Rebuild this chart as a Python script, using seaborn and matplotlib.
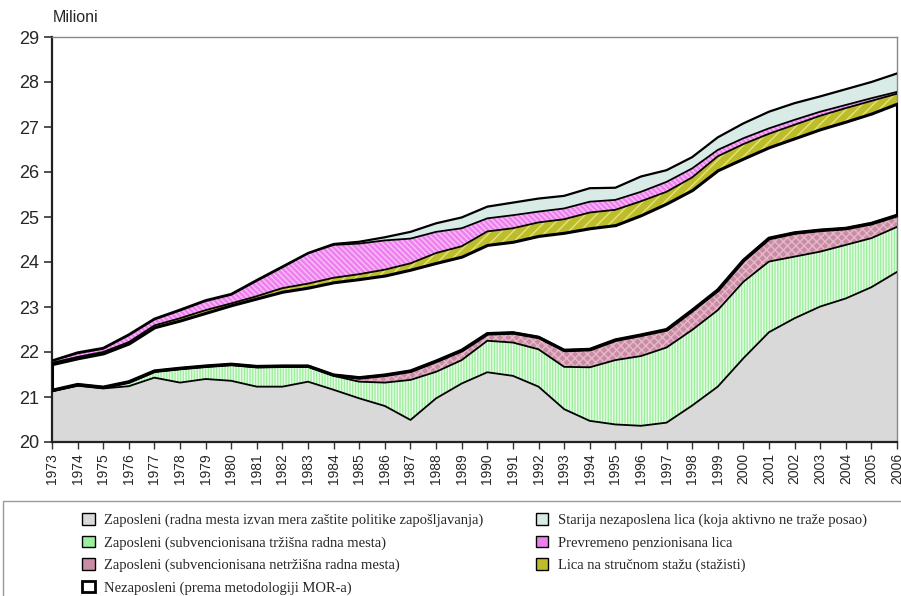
import numpy as np
import matplotlib.pyplot as plt
import seaborn as sns
from matplotlib.patches import Patch, Rectangle

# godine
years = list(range(1973, 2007))

# slojevi (miliona), odozdo nagore
zaposleni_van_mera = [21.13, 21.25, 21.19, 21.24, 21.43, 21.32, 21.40, 21.36, 21.23, 21.23, 21.34, 21.16,
                      20.97, 20.80, 20.49, 20.97, 21.30, 21.55, 21.47, 21.23, 20.73, 20.47, 20.39, 20.36,
                      20.43, 20.81, 21.23, 21.86, 22.44, 22.75, 23.01, 23.19, 23.44, 23.78]
zaposleni_trzisna = [0.00, 0.01, 0.01, 0.08, 0.13, 0.30, 0.27, 0.35, 0.43, 0.44, 0.33, 0.31,
                     0.37, 0.52, 0.89, 0.59, 0.52, 0.70, 0.74, 0.83, 0.94, 1.19, 1.43, 1.55,
                     1.67, 1.68, 1.70, 1.70, 1.57, 1.37, 1.22, 1.19, 1.09, 1.00]
zaposleni_netrzisna = [0.02, 0.02, 0.02, 0.02, 0.02, 0.02, 0.02, 0.02, 0.02, 0.02, 0.02, 0.02,
                       0.09, 0.17, 0.20, 0.24, 0.22, 0.16, 0.22, 0.27, 0.37, 0.40, 0.45, 0.47,
                       0.40, 0.44, 0.45, 0.48, 0.52, 0.53, 0.48, 0.37, 0.33, 0.26]
nezaposleni = [0.58, 0.58, 0.75, 0.85, 0.97, 1.06, 1.18, 1.31, 1.51, 1.65, 1.74, 2.06,
               2.19, 2.21, 2.25, 2.18, 2.08, 1.97, 2.02, 2.25, 2.61, 2.69, 2.55, 2.66,
               2.80, 2.67, 2.66, 2.26, 2.02, 2.10, 2.24, 2.37, 2.44, 2.48]
stazisti = [0.03, 0.03, 0.03, 0.03, 0.04, 0.05, 0.06, 0.04, 0.05, 0.08, 0.09, 0.10,
            0.11, 0.13, 0.14, 0.22, 0.23, 0.30, 0.30, 0.30, 0.30, 0.35, 0.34, 0.31,
            0.26, 0.28, 0.31, 0.32, 0.30, 0.30, 0.30, 0.30, 0.28, 0.22]
prevremeno_penz = [0.04, 0.08, 0.07, 0.15, 0.13, 0.17, 0.20, 0.19, 0.34, 0.46, 0.67, 0.73,
                   0.68, 0.65, 0.55, 0.47, 0.40, 0.29, 0.29, 0.24, 0.24, 0.24, 0.22, 0.21,
                   0.22, 0.20, 0.14, 0.13, 0.12, 0.11, 0.09, 0.07, 0.06, 0.04]
starija_nezaposlena = [0.01, 0.02, 0.02, 0.02, 0.02, 0.02, 0.02, 0.02, 0.02, 0.02, 0.01, 0.02,
                       0.04, 0.07, 0.15, 0.19, 0.24, 0.26, 0.28, 0.29, 0.28, 0.30, 0.27, 0.34,
                       0.26, 0.25, 0.28, 0.33, 0.37, 0.37, 0.34, 0.35, 0.36, 0.41]

labels = ['Zaposleni (radna mesta izvan mera zaštite politike zapošljavanja)',
          'Zaposleni (subvencionisana tržišna radna mesta)',
          'Zaposleni (subvencionisana netržišna radna mesta)',
          'Nezaposleni (prema metodologiji MOR-a)',
          'Lica na stručnom stažu (stažisti)',
          'Prevremeno penzionisana lica',
          'Starija nezaposlena lica (koja aktivno ne traže posao)']

sns.set_theme(style='ticks')
plt.rcParams['font.family'] = ['Liberation Sans', 'DejaVu Sans']
plt.rcParams['hatch.linewidth'] = 1.0

fig = plt.figure(figsize=(9.01, 5.96), dpi=100)
ax = fig.add_axes([52 / 901, 1 - 442 / 596, 845 / 901, 405 / 596])

layers = np.array([zaposleni_van_mera, zaposleni_trzisna, zaposleni_netrzisna, nezaposleni,
                   stazisti, prevremeno_penz, starija_nezaposlena])
tops = np.cumsum(layers, axis=0)
bottoms = np.vstack([np.zeros(len(years)), tops[:-1]])

# (boja, srafura, boja srafure)
styles = [('#d9d9d9', None, '#d9d9d9'),
          ('#9cef9c', '||||||', '#e8fce8'),
          ('#c98ca4', 'xxxx', '#e6b8ca'),
          ('white', None, 'black'),
          ('#bdbd2c', '///', '#e4e47a'),
          ('#ee7fee', '\\\\\\\\\\\\', '#f8c0f8'),
          ('#d8ebe7', None, '#d8ebe7')]

for i, (face, hatch, hcol) in enumerate(styles):
    if i == 3:
        ax.fill_between(years, bottoms[i], tops[i], facecolor='white', edgecolor='black',
                        linewidth=2.2, zorder=3)
    else:
        ax.fill_between(years, bottoms[i], tops[i], facecolor=face, edgecolor=hcol,
                        hatch=hatch, linewidth=0, zorder=2)

line_w = [1.3, 1.3, 2.2, 1.3, 1.3, 1.3, 1.6]
for i in range(len(styles)):
    if i == 3:
        continue
    sns.lineplot(x=years, y=tops[i], color='black', linewidth=line_w[i], ax=ax, zorder=4)

ax.set_xlim(1973, 2006)
ax.set_ylim(20, 29)
ax.set_yticks(range(20, 30))
ax.set_xticks(years)
ax.set_xticklabels([str(y) for y in years], rotation=90)
ax.tick_params(axis='y', labelsize=13, length=6, width=1.2, color='#333333', pad=3)
ax.tick_params(axis='x', labelsize=10, length=5, width=1, color='#333333', pad=3)
ax.set_xlabel('')
ax.set_ylabel('')
for side in ['left', 'bottom']:
    ax.spines[side].set_color('#222222')
    ax.spines[side].set_linewidth(1.6)
for side in ['top', 'right']:
    ax.spines[side].set_visible(True)
    ax.spines[side].set_color('#888888')
    ax.spines[side].set_linewidth(1.0)

fig.text(53 / 901, 1 - 18 / 596, 'Milioni', fontsize=11.5, va='center', ha='left')

# legenda
handle_faces = ['#d9d9d9', '#9cef9c', '#c98ca4', 'white', '#bdbd2c', '#ee7fee', '#d8ebe7']
handles = []
for j, f in enumerate(handle_faces):
    handles.append(Patch(facecolor=f, edgecolor='black', linewidth=2.0 if j == 3 else 1.0))
order = [0, 1, 2, 3, 6, 5, 4]
fig.legend([handles[k] for k in order], [labels[k] for k in order], ncol=2,
           loc='upper left', bbox_to_anchor=(72 / 901, 1 - 503 / 596), frameon=False,
           prop={'family': 'Liberation Serif', 'size': 10.5},
           handlelength=0.85, handleheight=0.85, handletextpad=0.65,
           labelspacing=0.58, columnspacing=3.6, borderpad=0.2)
fig.patches.append(Rectangle((3 / 901, -0.02), 1.0, 1 - 501 / 596 + 0.02, transform=fig.transFigure,
                             fill=False, edgecolor='#999999', linewidth=1.0))

fig.savefig('out.png', dpi=100)
